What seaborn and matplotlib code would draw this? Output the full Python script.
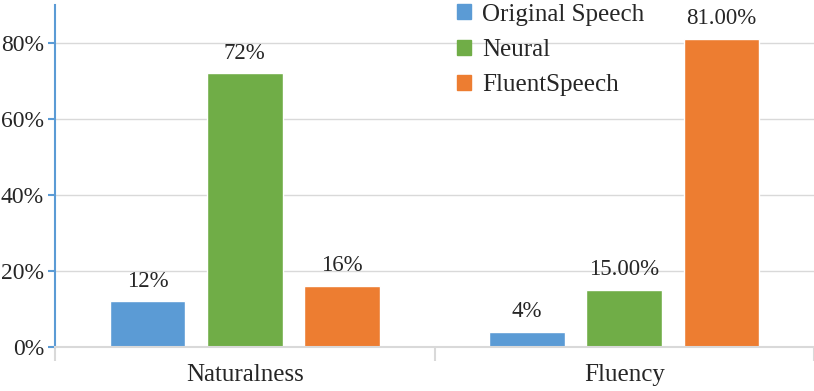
import pandas as pd
import matplotlib
matplotlib.use("Agg")
import matplotlib.pyplot as plt
from matplotlib.ticker import FixedLocator, PercentFormatter
import seaborn as sns

# DATA
categories = ["Naturalness", "Fluency"]
systems = ["Original Speech", "Neural", "FluentSpeech"]
original_vals = [12, 4]
neural_vals = [72, 15]
fluent_vals = [16, 81]
original_labels = ["12%", "4%"]
neural_labels = ["72%", "15.00%"]
fluent_labels = ["16%", "81.00%"]
colors = ["#5B9BD5", "#70AD47", "#ED7D31"]

df = pd.DataFrame({
    "Category": categories * 3,
    "System": [s for s in systems for _ in categories],
    "Value": original_vals + neural_vals + fluent_vals,
})

sns.set_style("white")
plt.rcParams["font.family"] = ["Liberation Serif", "DejaVu Serif"]
plt.rcParams["font.size"] = 16

fig = plt.figure(figsize=(8.14, 3.91), dpi=100)
ax = fig.add_axes([55 / 814, 1 - 347 / 391, 1 - 55 / 814, 342 / 391])

sns.barplot(
    data=df, x="Category", y="Value", hue="System",
    order=categories, hue_order=systems, palette=colors,
    width=0.768, gap=0.22, saturation=1, ax=ax, legend=True,
)

# value labels
for cont, labs in zip(ax.containers, [original_labels, neural_labels, fluent_labels]):
    ax.bar_label(cont, labels=labs, padding=7, fontsize=16.5)

ax.set_xlim(-0.5, 1.5)
ax.set_ylim(0, 90)
ax.yaxis.set_major_locator(FixedLocator([0, 20, 40, 60, 80]))
ax.yaxis.set_major_formatter(PercentFormatter(decimals=0))
ax.grid(axis="y", color="#D9D9D9", linewidth=1)
ax.set_axisbelow(True)
ax.set_xlabel("")
ax.set_ylabel("")

for side in ["top", "right"]:
    ax.spines[side].set_visible(False)
ax.spines["left"].set_color("#5B9BD5")
ax.spines["left"].set_linewidth(1.5)
ax.spines["bottom"].set_color("#D9D9D9")
ax.spines["bottom"].set_linewidth(1.5)

ax.tick_params(axis="y", which="major", left=True, length=5, color="#5B9BD5", width=1.5, labelsize=17, pad=3)
ax.tick_params(axis="x", which="major", length=0, labelsize=18, pad=12)
ax.set_xticks([-0.5, 0.5, 1.5], minor=True)
ax.tick_params(axis="x", which="minor", bottom=True, length=10, color="#D9D9D9", width=1.5)

leg = ax.get_legend()
leg.remove()
handles = [plt.Rectangle((0, 0), 1, 1, color=c) for c in colors]
fig.legend(handles, systems, loc="upper left", bbox_to_anchor=(435 / 814, 1.048),
           frameon=False, fontsize=18, handlelength=0.55, handleheight=0.55,
           handletextpad=0.45, labelspacing=0.53)

fig.savefig("out.png", dpi=100)
